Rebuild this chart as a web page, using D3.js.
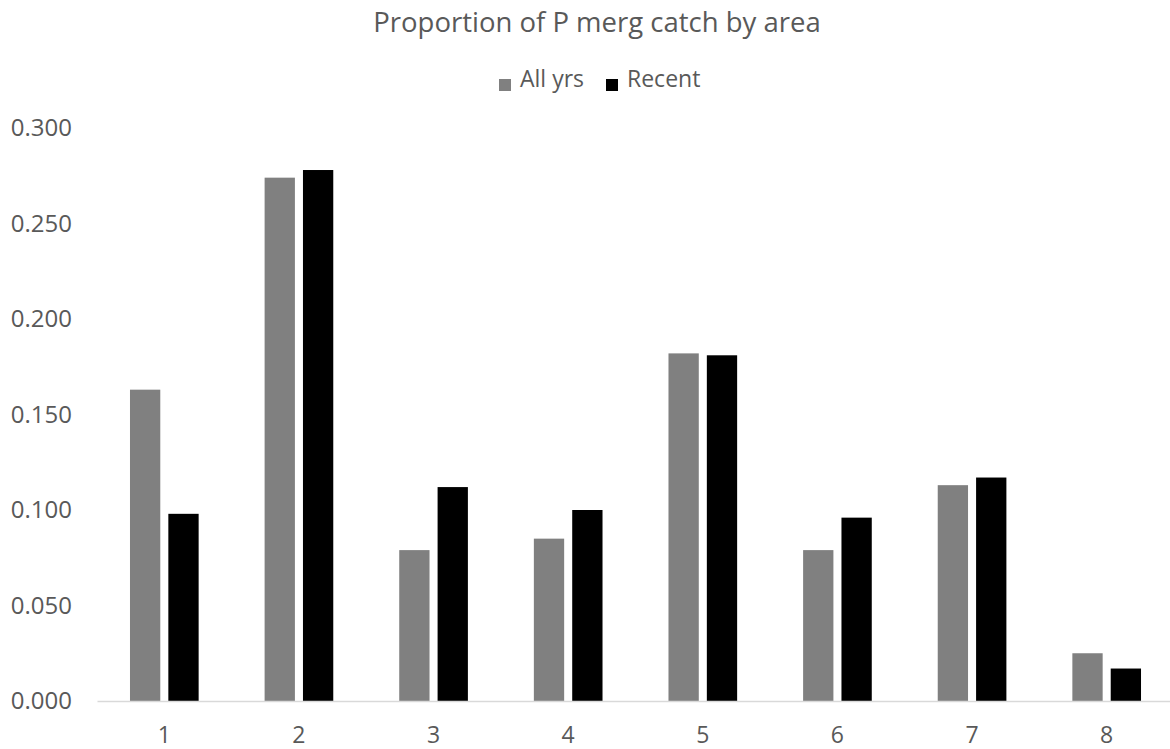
<!DOCTYPE html>
<html>
<head>
<meta charset="utf-8">
<script src="https://cdn.jsdelivr.net/npm/d3@7"></script>
<style>
  html, body { margin: 0; padding: 0; background: #ffffff; }
  svg { display: block; }
  text { font-family: "Open Sans", sans-serif; fill: #595959; }
</style>
</head>
<body>
<svg id="chart" width="1170" height="749"></svg>
<script>
// Areas along the x axis
const areas = ["1", "2", "3", "4", "5", "6", "7", "8"];
// Series names and their values (proportion of catch per area)
const seriesNames = ["All yrs", "Recent"];
const allYrs = [0.163, 0.274, 0.079, 0.085, 0.182, 0.079, 0.113, 0.025];
const recent = [0.098, 0.278, 0.112, 0.100, 0.181, 0.096, 0.117, 0.017];
// Y axis tick values
const yTicks = [0.000, 0.050, 0.100, 0.150, 0.200, 0.250, 0.300];
const titleText = "Proportion of P merg catch by area";

const seriesValues = [allYrs, recent];
const colors = ["#808080", "#000000"];

const svg = d3.select("#chart");

const plot = { left: 97, right: 1174, top: 128, bottom: 701 };

const x0 = d3.scaleBand()
  .domain(areas)
  .range([plot.left, plot.right])
  .padding(0);

const groupInset = x0.bandwidth() * 0.245;
const x1 = d3.scaleBand()
  .domain(seriesNames)
  .range([groupInset, x0.bandwidth() - groupInset])
  .paddingInner(0.21)
  .paddingOuter(0);

const y = d3.scaleLinear()
  .domain([0, 0.3])
  .range([plot.bottom, plot.top]);

// Title
svg.append("text")
  .attr("x", 597)
  .attr("y", 32)
  .attr("text-anchor", "middle")
  .style("font-size", "27.5px")
  .text(titleText);

// Legend
const legendItems = [
  { name: seriesNames[0], color: colors[0], x: 499 },
  { name: seriesNames[1], color: colors[1], x: 606 }
];
const legend = svg.append("g");
legendItems.forEach(d => {
  legend.append("rect")
    .attr("x", d.x).attr("y", 79)
    .attr("width", 12).attr("height", 12)
    .attr("fill", d.color);
  legend.append("text")
    .attr("x", d.x + 21).attr("y", 87)
    .style("font-size", "23px")
    .text(d.name);
});

// Bars
const groups = svg.append("g")
  .selectAll("g")
  .data(areas.map((a, i) => ({ area: a, values: seriesValues.map((s, k) => ({ name: seriesNames[k], value: s[i], color: colors[k] })) })))
  .join("g")
  .attr("transform", d => `translate(${x0(d.area)},0)`);

groups.selectAll("rect")
  .data(d => d.values)
  .join("rect")
  .attr("x", d => x1(d.name))
  .attr("width", x1.bandwidth())
  .attr("y", d => y(d.value))
  .attr("height", d => y(0) - y(d.value))
  .attr("fill", d => d.color);

// Y axis labels (no axis line, no gridlines)
const yAxis = d3.axisLeft(y)
  .tickValues(yTicks)
  .tickFormat(d3.format(".3f"))
  .tickSize(0)
  .tickPadding(25);
const yg = svg.append("g")
  .attr("transform", `translate(${plot.left},0)`)
  .call(yAxis);
yg.select(".domain").remove();
yg.selectAll("text")
  .style("font-family", "'Open Sans', sans-serif")
  .style("font-size", "24px")
  .attr("fill", "#595959");

// X axis
const xAxis = d3.axisBottom(x0).tickSize(0).tickPadding(26);
const xg = svg.append("g")
  .attr("transform", `translate(0,${plot.bottom})`)
  .call(xAxis);
xg.select(".domain")
  .attr("stroke", "#d9d9d9")
  .attr("stroke-width", 1.5);
xg.selectAll("text")
  .style("font-family", "'Open Sans', sans-serif")
  .style("font-size", "23px")
  .attr("fill", "#595959");
</script>
</body>
</html>
